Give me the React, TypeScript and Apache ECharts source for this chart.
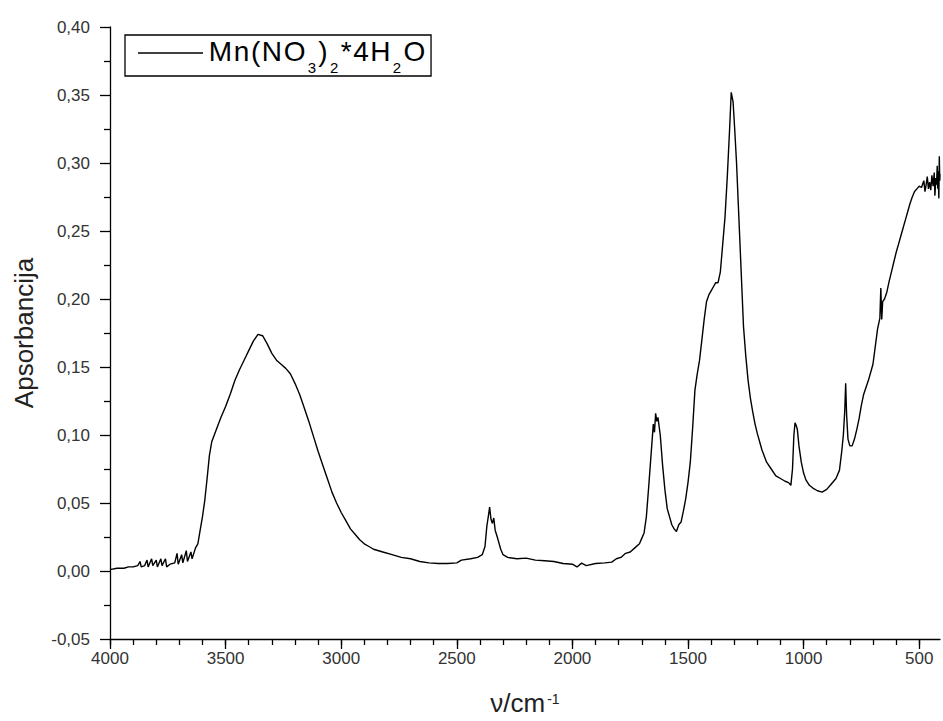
import { useEffect, useRef } from 'react';
import * as echarts from 'echarts';

const seriesName = 'Mn(NO3)2*4H2O';

const wavenumber = [
  4000, 3970, 3940, 3920, 3900, 3880, 3870, 3865, 3850, 3840,
  3835, 3820, 3815, 3800, 3795, 3780, 3775, 3760, 3755, 3740,
  3720, 3710, 3705, 3690, 3685, 3670, 3665, 3650, 3645, 3630,
  3620, 3610, 3600, 3590, 3580, 3570, 3560, 3540, 3520, 3500,
  3480, 3460, 3440, 3420, 3400, 3380, 3360, 3340, 3320, 3300,
  3280, 3260, 3240, 3220, 3200, 3180, 3160, 3140, 3120, 3100,
  3080, 3060, 3040, 3020, 3000, 2980, 2960, 2940, 2920, 2900,
  2880, 2860, 2820, 2780, 2740, 2700, 2660, 2620, 2580, 2540,
  2500, 2480, 2440, 2410, 2390, 2378, 2370, 2362, 2358, 2352,
  2346, 2340, 2334, 2325, 2310, 2300, 2280, 2240, 2200, 2160,
  2120, 2080, 2040, 2000, 1980, 1960, 1940, 1900, 1860, 1830,
  1810, 1790, 1770, 1750, 1730, 1710, 1700, 1690, 1680, 1670,
  1660, 1650, 1645, 1640, 1635, 1630, 1620, 1610, 1600, 1590,
  1580, 1570, 1560, 1550, 1540, 1530, 1520, 1510, 1500, 1490,
  1480, 1470, 1460, 1450, 1440, 1430, 1420, 1410, 1400, 1390,
  1380, 1370, 1360, 1350, 1340, 1330, 1320, 1313, 1305, 1298,
  1290, 1280, 1270, 1260, 1250, 1240, 1230, 1220, 1210, 1200,
  1180, 1160, 1140, 1120, 1100, 1080, 1065, 1055, 1048, 1042,
  1037, 1032, 1027, 1020, 1010, 1000, 990, 975, 960, 940,
  920, 900, 880, 860, 845, 835, 828, 822, 818, 814,
  808, 800, 790, 780, 770, 760, 750, 740, 720, 710,
  700, 690, 680, 670, 666, 662, 658, 650, 640, 630,
  620, 610, 600, 590, 580, 570, 560, 550, 540, 530,
  520, 510, 500, 490, 480, 475, 470, 465, 460, 455,
  450, 445, 440, 435, 432, 428, 425, 422, 420, 418,
  415, 413, 411, 410,
];

const absorbance = [
  0.001, 0.002, 0.002, 0.003, 0.003, 0.004, 0.007, 0.003, 0.004, 0.008,
  0.003, 0.009, 0.004, 0.008, 0.003, 0.009, 0.004, 0.009, 0.003, 0.005,
  0.006, 0.013, 0.005, 0.012, 0.006, 0.015, 0.007, 0.014, 0.009, 0.017,
  0.020, 0.030, 0.040, 0.052, 0.068, 0.085, 0.095, 0.104, 0.113, 0.121,
  0.130, 0.140, 0.148, 0.155, 0.162, 0.169, 0.174, 0.173, 0.167, 0.160,
  0.155, 0.152, 0.149, 0.145, 0.138, 0.130, 0.120, 0.110, 0.099, 0.088,
  0.078, 0.068, 0.058, 0.050, 0.043, 0.037, 0.031, 0.027, 0.023, 0.020,
  0.018, 0.016, 0.014, 0.012, 0.010, 0.009, 0.007, 0.006, 0.0055, 0.0055,
  0.006, 0.008, 0.009, 0.010, 0.012, 0.018, 0.033, 0.042, 0.047, 0.038,
  0.035, 0.039, 0.030, 0.025, 0.016, 0.012, 0.010, 0.009, 0.0095, 0.008,
  0.0075, 0.007, 0.0055, 0.005, 0.003, 0.0058, 0.004, 0.0055, 0.006, 0.0065,
  0.009, 0.010, 0.013, 0.014, 0.017, 0.020, 0.024, 0.028, 0.040, 0.062,
  0.085, 0.108, 0.102, 0.116, 0.110, 0.113, 0.100, 0.078, 0.060, 0.046,
  0.040, 0.034, 0.031, 0.029, 0.034, 0.036, 0.044, 0.053, 0.065, 0.080,
  0.105, 0.133, 0.145, 0.155, 0.170, 0.185, 0.198, 0.203, 0.206, 0.209,
  0.212, 0.212, 0.220, 0.240, 0.260, 0.290, 0.325, 0.352, 0.345, 0.325,
  0.300, 0.260, 0.220, 0.180, 0.158, 0.140, 0.127, 0.117, 0.108, 0.101,
  0.089, 0.080, 0.075, 0.070, 0.068, 0.066, 0.065, 0.063, 0.075, 0.100,
  0.109, 0.107, 0.104, 0.092, 0.080, 0.072, 0.067, 0.063, 0.061, 0.059,
  0.058, 0.060, 0.064, 0.068, 0.074, 0.088, 0.100, 0.118, 0.138, 0.115,
  0.097, 0.092, 0.092, 0.097, 0.104, 0.112, 0.122, 0.130, 0.140, 0.146,
  0.152, 0.165, 0.178, 0.186, 0.208, 0.185, 0.198, 0.200, 0.205, 0.213,
  0.220, 0.227, 0.234, 0.240, 0.246, 0.252, 0.258, 0.264, 0.270, 0.275,
  0.279, 0.281, 0.283, 0.282, 0.287, 0.279, 0.284, 0.290, 0.281, 0.286,
  0.280, 0.291, 0.283, 0.293, 0.276, 0.289, 0.284, 0.298, 0.281, 0.294,
  0.274, 0.305, 0.287, 0.292,
];

const xMajorTicks = [4000, 3500, 3000, 2500, 2000, 1500, 1000, 500];
const xMinorTicks = [
  4000, 3900, 3800, 3700, 3600, 3500, 3400, 3300, 3200, 3100,
  3000, 2900, 2800, 2700, 2600, 2500, 2400, 2300, 2200, 2100,
  2000, 1900, 1800, 1700, 1600, 1500, 1400, 1300, 1200, 1100,
  1000, 900, 800, 700, 600, 500,
];

// legend text split into normal (a) and subscript (s) parts
const legendParts: [string, string][] = [
  ['a', 'Mn(NO'], ['s', '3'], ['a', ')'], ['s', '2'], ['a', '*4H'], ['s', '2'], ['a', 'O'],
];

const FONT = '"Liberation Sans", Arial, sans-serif';
const AXIS_COLOR = '#000';
const LABEL_COLOR = '#333';

export default function App() {
  const ref = useRef<HTMLDivElement>(null);

  useEffect(() => {
    if (!ref.current) return;
    const chart = echarts.init(ref.current, null, { renderer: 'svg' });
    const data = wavenumber.map((w, i) => [w, absorbance[i]]);
    const axisLineStyle = { color: AXIS_COLOR, width: 1.3 };
    const legendText = legendParts
      .map(([k, t]) => (k === 'a' ? t.split('').map((c) => `{a|${c}}`).join('') : `{s|${t}}`))
      .join('');

    chart.setOption({
      animation: false,
      backgroundColor: '#fff',
      grid: { left: 110, right: 3, top: 27, bottom: 81, containLabel: false },
      legend: {
        show: true,
        left: 125,
        top: 35,
        orient: 'horizontal',
        padding: [2, 5, 1, 13],
        borderColor: '#000',
        borderWidth: 1.3,
        backgroundColor: '#fff',
        icon: 'rect',
        itemWidth: 65,
        itemHeight: 1.5,
        itemStyle: { color: '#000' },
        data: [seriesName],
        formatter: () => legendText,
        textStyle: {
          fontFamily: FONT,
          fontSize: 28,
          color: '#000',
          rich: {
            a: { fontFamily: FONT, fontSize: 28, lineHeight: 32, verticalAlign: 'top', padding: [0, 0.8, 0, 0.8], color: '#000' },
            s: { fontFamily: FONT, fontSize: 15, lineHeight: 15, verticalAlign: 'top', padding: [23, 1.5, 0, 1.5], color: '#000' },
          },
        },
      },
      xAxis: [
        {
          type: 'value',
          inverse: true,
          min: 410,
          max: 4000,
          position: 'bottom',
          axisLine: { show: true, onZero: false, lineStyle: axisLineStyle },
          axisTick: { show: true, customValues: xMajorTicks, length: 10, lineStyle: axisLineStyle },
          axisLabel: {
            customValues: xMajorTicks,
            margin: 11,
            fontFamily: FONT,
            fontSize: 17,
            color: LABEL_COLOR,
            formatter: (v: number) => String(Math.round(v)),
          },
          splitLine: { show: false },
          name: '{a|ν/cm}{s|-1}',
          nameLocation: 'middle',
          nameGap: 51,
          nameTextStyle: {
            rich: {
              a: { fontFamily: FONT, fontSize: 26, lineHeight: 30, verticalAlign: 'top', color: '#222' },
              s: { fontFamily: FONT, fontSize: 14, lineHeight: 14, verticalAlign: 'top', padding: [2, 0, 0, 2], color: '#222' },
            },
          },
        },
        {
          type: 'value',
          inverse: true,
          min: 410,
          max: 4000,
          position: 'bottom',
          axisLine: { show: false, onZero: false },
          axisTick: { show: true, customValues: xMinorTicks, length: 6, lineStyle: axisLineStyle },
          axisLabel: { show: false },
          splitLine: { show: false },
        },
      ],
      yAxis: {
        type: 'value',
        min: -0.05,
        max: 0.4,
        interval: 0.05,
        axisLine: { show: true, onZero: false, lineStyle: axisLineStyle },
        axisTick: { show: true, length: 10, lineStyle: axisLineStyle },
        minorTick: { show: true, splitNumber: 2, length: 6, lineStyle: axisLineStyle },
        axisLabel: {
          margin: 20,
          fontFamily: FONT,
          fontSize: 17,
          color: LABEL_COLOR,
          formatter: (v: number) => v.toFixed(2).replace('.', ','),
        },
        splitLine: { show: false },
        minorSplitLine: { show: false },
        name: 'Apsorbancija',
        nameLocation: 'middle',
        nameGap: 73,
        nameTextStyle: { fontFamily: FONT, fontSize: 26, color: '#222' },
      },
      series: [
        {
          name: seriesName,
          type: 'line',
          xAxisIndex: 0,
          yAxisIndex: 0,
          data,
          symbol: 'none',
          showSymbol: false,
          lineStyle: { color: '#000', width: 1.4 },
          itemStyle: { color: '#000' },
        },
      ],
    });

    return () => chart.dispose();
  }, []);

  return (
    <div
      ref={ref}
      style={{ position: 'fixed', left: 0, top: 0, width: 943, height: 721, background: '#fff' }}
    />
  );
}
